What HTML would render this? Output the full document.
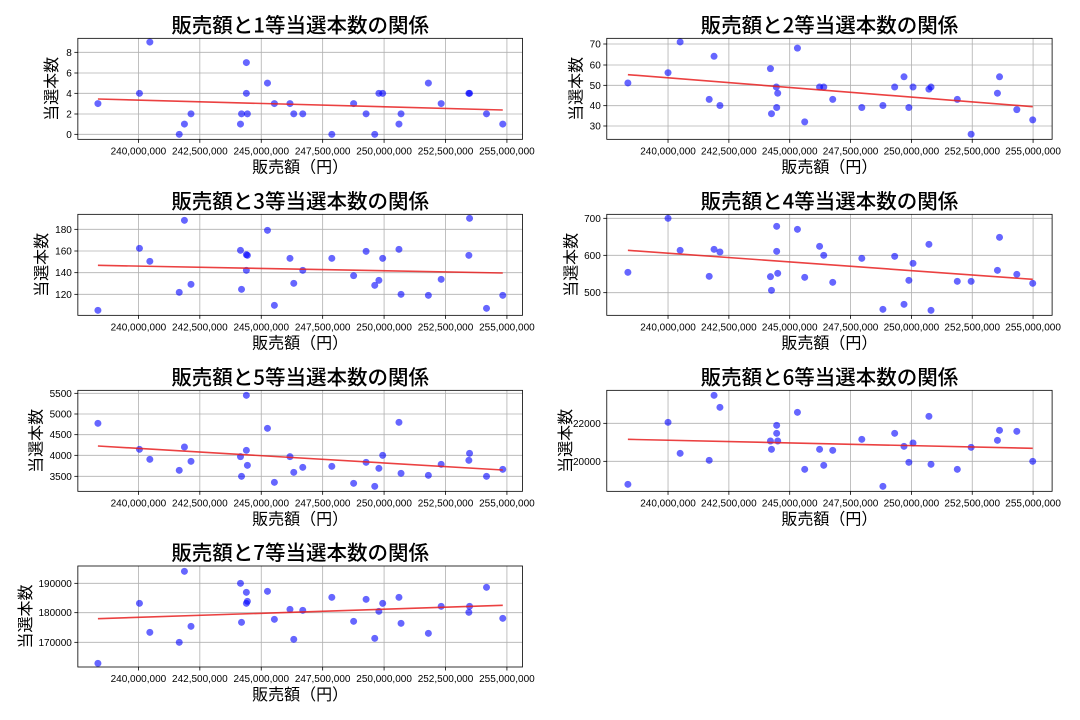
<!DOCTYPE html>
<html><head><meta charset="utf-8"><style>
html,body{margin:0;padding:0;background:#fff;}
svg{display:block;}
text{font-family:"Liberation Sans","Noto Sans CJK JP",sans-serif;fill:#000;}
.t{font-family:"Noto Sans CJK JP",sans-serif;}
</style></head><body>
<svg id="s" width="1080" height="720" xmlns="http://www.w3.org/2000/svg"></svg>
<script>
var S=2.89, SY=3;
var P=[
{n:1,ox:0,oy:0,b:[225,115,1510,418],xt:[400,1465],yt:[[157,"8"],[219,"6"],[280,"4"],[342,"2"],[403,"0"]],yl:145,
 pts:(function(){var a=[[283,3],[403,4],[433,9],[518,0],[533,1],[552,2],[695,1],[698,2],[712,7],[712,4],[715,2],[773,5],[793,3],[838,3],[849,2],[875,2],[959,0],[1022,3],[1058,2],[1083,0],[1095,4],[1106,4],[1153,1],[1159,2],[1238,5],[1275,3],[1355,4],[1357,4],[1406,2],[1453,1]];return a.map(function(p){return [p[0],403-p[1]*30.75];});})(),
 ln:[283,297,1453,330]},
{n:2,ox:540,oy:0,b:[193,115,1480,418],xt:[370,1425],yt:[[132,"70"],[195,"60"],[256,"50"],[317,"40"],[378,"30"]],yl:100,
 pts:(function(){var a=[[254,51],[370,56],[405,71],[489,43],[503,64],[520,40],[666,58],[669,36],[683,49],[684,39],[687,46],[744,68],[765,32],[808,49],[820,49],[846,43],[930,39],[991,40],[1025,49],[1052,54],[1066,39],[1078,49],[1124,48],[1130,49],[1206,43],[1246,26],[1322,46],[1328,54],[1378,38],[1424,33]];return a.map(function(p){return [p[0],378-(p[1]-30)*6.15];});})(),
 ln:[254,224,1424,320]},
{n:3,ox:0,oy:180,b:[225,103,1510,406],xt:[400,1465],yt:[[148,"180"],[213,"160"],[278,"140"],[343,"120"]],yl:115,
 pts:[[283,391],[403,205],[433,244],[518,337],[533,121],[552,313],[695,211],[698,328],[712,224],[715,226],[712,271],[773,151],[793,376],[838,235],[849,310],[875,271],[959,235],[1022,287],[1058,214],[1083,316],[1095,301],[1106,235],[1153,208],[1159,343],[1238,346],[1275,298],[1355,226],[1357,115],[1406,385],[1453,346]],
 ln:[283,256,1453,279]},
{n:4,ox:540,oy:180,b:[193,103,1480,406],xt:[370,1425],yt:[[115,"700"],[226,"600"],[338,"500"]],yl:85,
 pts:[[254,277],[370,115],[405,211],[489,289],[503,208],[520,216],[666,290],[669,331],[684,139],[684,214],[687,280],[744,148],[765,292],[808,199],[820,226],[846,307],[930,235],[991,388],[1025,229],[1052,373],[1066,301],[1078,250],[1124,193],[1130,391],[1206,304],[1246,304],[1322,271],[1328,172],[1378,283],[1424,310]],
 ln:[254,211,1424,298]},
{n:5,ox:0,oy:360,b:[225,91,1510,394],xt:[400,1465],yt:[[100,"5500"],[162,"5000"],[224,"4500"],[286,"4000"],[349,"3500"]],yl:100,
 pts:[[283,190],[403,268],[433,298],[518,331],[533,261],[552,304],[695,290],[698,349],[712,106],[712,271],[715,316],[773,205],[793,367],[838,290],[849,337],[875,322],[959,319],[1022,370],[1058,307],[1083,379],[1095,325],[1106,286],[1153,187],[1159,340],[1238,346],[1275,313],[1355,301],[1357,280],[1406,349],[1453,328]],
 ln:[283,258,1453,330]},
{n:6,ox:540,oy:360,b:[193,91,1480,394],xt:[370,1425],yt:[[190,"22000"],[304,"20000"]],yl:70,
 pts:[[254,373],[370,187],[405,280],[489,301],[503,106],[520,142],[666,243],[669,268],[684,196],[684,220],[687,243],[744,157],[765,328],[808,268],[820,316],[846,271],[930,238],[991,379],[1025,220],[1052,259],[1066,307],[1078,249],[1124,169],[1130,313],[1206,328],[1246,262],[1322,241],[1328,211],[1378,214],[1424,304]],
 ln:[254,238,1424,265]},
{n:7,ox:0,oy:540,b:[225,78,1510,381],xt:[400,1465],yt:[[130,"190000"],[218,"180000"],[307,"170000"]],yl:70,
 pts:[[283,370],[403,190],[433,277],[518,307],[533,94],[552,259],[695,130],[698,247],[712,157],[712,190],[715,184],[773,154],[793,238],[838,208],[849,298],[875,211],[959,172],[1022,244],[1058,178],[1083,295],[1095,214],[1106,190],[1153,172],[1159,250],[1238,280],[1275,199],[1355,217],[1357,199],[1406,142],[1453,235]],
 ln:[283,236,1453,196]}
];
var labs=["240,000,000","242,500,000","245,000,000","247,500,000","250,000,000","252,500,000","255,000,000"];
var h="";
P.forEach(function(p){
 function X(z){return (p.ox+z/S).toFixed(2);}
 function Y(z){return (p.oy+z/SY).toFixed(2);}
 var L=+X(p.b[0]),T=+Y(p.b[1]),R=+X(p.b[2]),B=+Y(p.b[3]);
 var step=(p.xt[1]-p.xt[0])/6;
 for(var i=0;i<7;i++){var x=X(p.xt[0]+i*step);
  h+='<line x1="'+x+'" y1="'+T+'" x2="'+x+'" y2="'+B+'" stroke="#b0b0b0" stroke-width="0.8"/>';
  h+='<line x1="'+x+'" y1="'+B+'" x2="'+x+'" y2="'+(B+3.5)+'" stroke="#000" stroke-width="0.8"/>';
  h+='<text x="'+x+'" y="'+(B+15)+'" font-size="10" text-anchor="middle">'+labs[i]+'</text>';}
 p.yt.forEach(function(t){var y=Y(t[0]);
  h+='<line x1="'+L+'" y1="'+y+'" x2="'+R+'" y2="'+y+'" stroke="#b0b0b0" stroke-width="0.8"/>';
  h+='<line x1="'+(L-3.5)+'" y1="'+y+'" x2="'+L+'" y2="'+y+'" stroke="#000" stroke-width="0.8"/>';
  h+='<text x="'+(L-6)+'" y="'+(+y+3.5)+'" font-size="10" text-anchor="end">'+t[1]+'</text>';});
 p.pts.forEach(function(q){h+='<circle cx="'+X(q[0])+'" cy="'+Y(q[1])+'" r="3.5" fill="#0000ff" fill-opacity="0.6"/>';});
 h+='<line x1="'+X(p.ln[0])+'" y1="'+Y(p.ln[1])+'" x2="'+X(p.ln[2])+'" y2="'+Y(p.ln[3])+'" stroke="#e82020" stroke-opacity="0.85" stroke-width="1.6"/>';
 h+='<rect x="'+L+'" y="'+T+'" width="'+(R-L).toFixed(2)+'" height="'+(B-T).toFixed(2)+'" fill="none" stroke="#000" stroke-width="0.8"/>';
 var cx=((L+R)/2).toFixed(2);
 h+='<text class="t" x="'+cx+'" y="'+(T-6)+'" font-size="20.5" font-weight="500" text-anchor="middle">販売額と'+p.n+'等当選本数の関係</text>';
 h+='<text class="t" x="'+cx+'" y="'+(B+33)+'" font-size="16" text-anchor="middle">販売額（円）</text>';
 var ly=((T+B)/2).toFixed(2), lx=X(p.yl);
 h+='<text class="t" x="'+lx+'" y="'+ly+'" font-size="16" text-anchor="middle" dominant-baseline="central" transform="rotate(-90 '+lx+' '+ly+')">当選本数</text>';
});
document.getElementById("s").innerHTML=h;
</script>
</body></html>
